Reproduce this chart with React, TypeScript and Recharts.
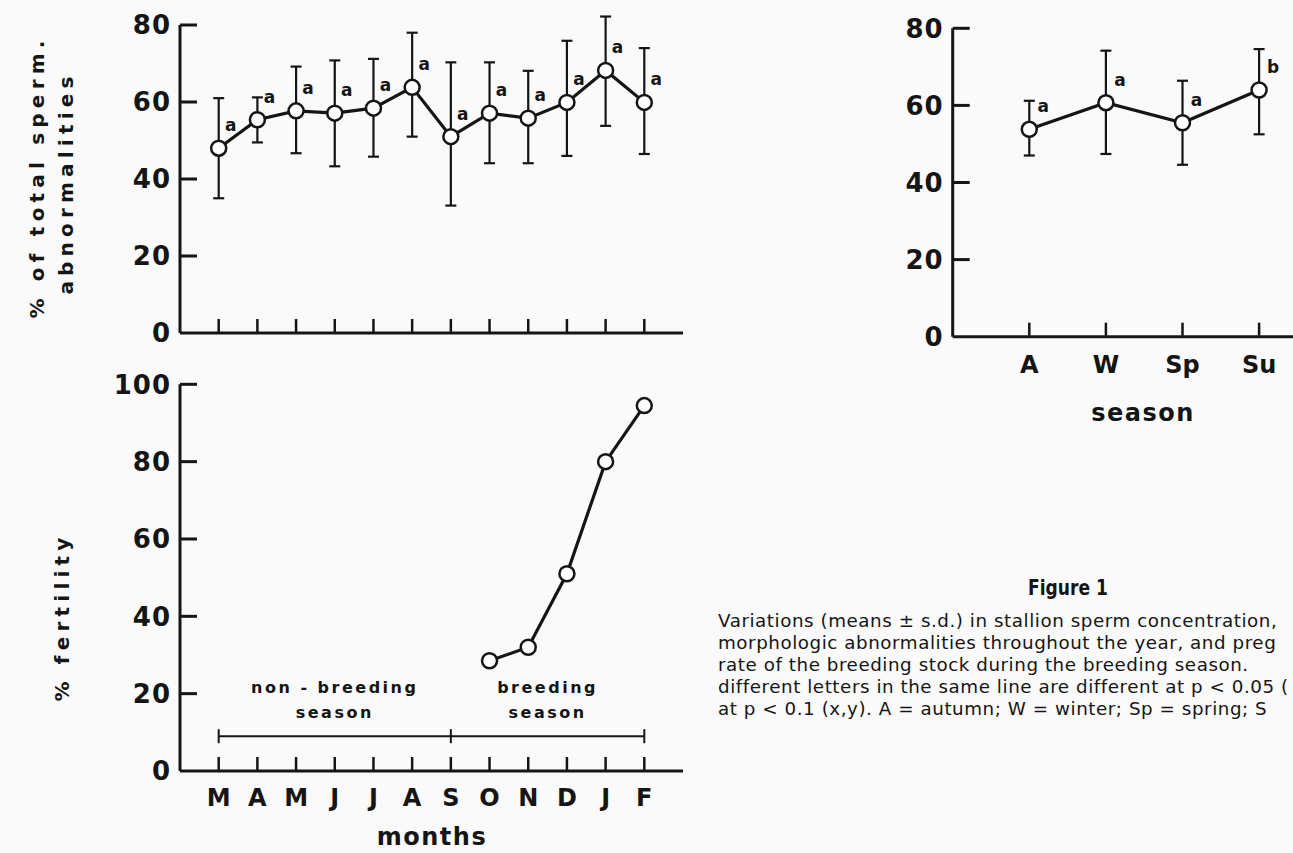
import React from "react";
import {
  LineChart,
  Line,
  XAxis,
  YAxis,
  ErrorBar,
  LabelList,
  ReferenceLine,
  ReferenceDot,
} from "recharts";

const INK = "#151515";
const PAPER = "#fafafa";
const FONT = "'DejaVu Sans', Verdana, sans-serif";

// monthly values, March .. February
const MONTHS = ["M", "A", "M", "J", "J", "A", "S", "O", "N", "D", "J", "F"];
const ABN_MEAN = [48, 55.4, 57.7, 57.1, 58.4, 63.8, 51, 57.1, 55.8, 59.9, 68.2, 59.9];
const ABN_UPPER = [61, 61.2, 69.2, 70.8, 71.2, 78, 70.3, 70.3, 68.1, 75.9, 82.2, 74];
const ABN_LOWER = [35, 49.5, 46.7, 43.3, 45.8, 51, 33.1, 44.1, 44.1, 46, 53.8, 46.5];
const ABN_LETTERS = ["a", "a", "a", "a", "a", "a", "a", "a", "a", "a", "a", "a"];
const ABN_TICKS = [0, 20, 40, 60, 80];

// fertility only measured during the breeding season (O .. F)
const FERT_MONTH_IDX = [7, 8, 9, 10, 11];
const FERT_VALUES = [28.5, 32, 51, 80, 94.5];
const FERT_TICKS = [0, 20, 40, 60, 80, 100];

// breeding / non-breeding bar
const PERIOD_BOUNDS = [0, 6, 11];
const PERIOD_LEVEL = 9;
const PERIOD_NAMES = [
  ["non - breeding", "season"],
  ["breeding", "season"],
];

// seasonal values
const SEASONS = ["A", "W", "Sp", "Su"];
const SEASON_MEAN = [53.8, 60.7, 55.5, 64];
const SEASON_UPPER = [61.2, 74.2, 66.4, 74.6];
const SEASON_LOWER = [47, 47.4, 44.6, 52.5];
const SEASON_LETTERS = ["a", "a", "a", "b"];

const CAPTION = [
  "Variations (means \u00b1 s.d.) in stallion sperm concentration,",
  "morphologic abnormalities throughout the year, and preg",
  "rate of the breeding stock during the breeding season.",
  "different letters in the same line are different at p < 0.05 (",
  "at p < 0.1 (x,y). A = autumn; W = winter; Sp = spring; S",
];

const monthIdx = MONTHS.map((_, i) => i);
const abnData = MONTHS.map((m, i) => ({
  x: i,
  mean: ABN_MEAN[i],
  err: [ABN_MEAN[i] - ABN_LOWER[i], ABN_UPPER[i] - ABN_MEAN[i]],
  letter: ABN_LETTERS[i],
}));
const fertData = FERT_MONTH_IDX.map((x, i) => ({ x, fert: FERT_VALUES[i] }));
const periodData = PERIOD_BOUNDS.map((x) => ({ x, level: PERIOD_LEVEL }));
const seasonData = SEASONS.map((s, i) => ({
  x: i,
  mean: SEASON_MEAN[i],
  err: [SEASON_MEAN[i] - SEASON_LOWER[i], SEASON_UPPER[i] - SEASON_MEAN[i]],
  letter: SEASON_LETTERS[i],
}));

const tickText = { fontFamily: FONT, fontWeight: 700, fill: INK } as const;

// y ticks point into the plot, label to the left
const renderYTick = (p: any) => {
  const v = p.payload.value;
  return (
    <g>
      {v !== 0 && <line x1={p.x} x2={p.x + 17} y1={p.y} y2={p.y} stroke={INK} strokeWidth={3} />}
      <text x={p.x - 9} y={p.y} dy="0.36em" textAnchor="end" fontSize={26} letterSpacing={1} {...tickText}>
        {v}
      </text>
    </g>
  );
};

// x ticks point up, optional label below
const makeXTick = (labels: string[] | null, gap: number) => (p: any) => (
  <g>
    <line x1={p.x} x2={p.x} y1={p.y - 1} y2={p.y - 14} stroke={INK} strokeWidth={2.5} />
    {labels && (
      <text x={p.x} y={p.y + gap} dy="0.36em" textAnchor="middle" fontSize={24} {...tickText}>
        {labels[p.payload.value]}
      </text>
    )}
  </g>
);

const makeLetter = (dx: number, dy: number) => (p: any) => {
  const x = p.x ?? p.viewBox?.x;
  const y = p.y ?? p.viewBox?.y;
  return (
    <text x={x + dx} y={y + dy} textAnchor="middle" fontSize={17} {...tickText}>
      {p.value}
    </text>
  );
};

const makePeriodLabel = (lines: string[]) => (p: any) => {
  const vb = p.viewBox || {};
  const cx = (vb.x ?? 0) + (vb.width ?? 0) / 2;
  const cy = (vb.y ?? 0) + (vb.height ?? 0) / 2;
  return (
    <text textAnchor="middle" fontSize={16} fontWeight={700} letterSpacing={2.5} fontFamily={FONT} fill={INK}>
      <tspan x={cx} y={cy - 43}>{lines[0]}</tspan>
      <tspan x={cx} y={cy - 18}>{lines[1]}</tspan>
    </text>
  );
};

const axisLine = { stroke: INK, strokeWidth: 3 };
const dotStyle = { r: 7.5, fill: "#fff", stroke: INK, strokeWidth: 2.5 };

export default function App() {
  return (
    <div
      style={{
        position: "absolute",
        left: 0,
        top: 0,
        width: 1293,
        height: 853,
        overflow: "hidden",
        background: PAPER,
      }}
    >
      {/* monthly abnormalities */}
      <div style={{ position: "absolute", left: 0, top: 0 }}>
        <LineChart width={700} height={362} margin={{ top: 9.6, right: 17, bottom: 0, left: 0 }} data={abnData}>
          <XAxis
            type="number"
            dataKey="x"
            domain={[-1, 12]}
            ticks={monthIdx}
            interval={0}
            height={29}
            tickSize={0}
            tickMargin={0}
            tickLine={false}
            axisLine={axisLine}
            tick={makeXTick(null, 0)}
          />
          <YAxis
            type="number"
            domain={[0, 84]}
            ticks={ABN_TICKS}
            interval={0}
            width={180}
            tickSize={0}
            tickMargin={0}
            tickLine={false}
            axisLine={false}
            tick={renderYTick}
          />
          <ReferenceLine segment={[{ x: -1, y: 0 }, { x: -1, y: 80 }]} stroke={INK} strokeWidth={3} />
          <Line dataKey="mean" stroke={INK} strokeWidth={3.2} dot={dotStyle} activeDot={false} isAnimationActive={false}>
            <ErrorBar dataKey="err" direction="y" width={5.5} stroke={INK} strokeWidth={2.2} />
            <LabelList dataKey="letter" content={makeLetter(12, -17)} />
          </Line>
        </LineChart>
      </div>

      {/* fertility */}
      <div style={{ position: "absolute", left: 0, top: 350 }}>
        <LineChart width={700} height={503} margin={{ top: 34.3, right: 17, bottom: 0, left: 0 }}>
          <XAxis
            type="number"
            dataKey="x"
            domain={[-1, 12]}
            ticks={monthIdx}
            interval={0}
            height={82}
            tickSize={0}
            tickMargin={0}
            tickLine={false}
            axisLine={axisLine}
            tick={makeXTick(MONTHS, 26)}
          />
          <YAxis
            type="number"
            domain={[0, 100]}
            ticks={FERT_TICKS}
            interval={0}
            width={180}
            tickSize={0}
            tickMargin={0}
            tickLine={false}
            axisLine={axisLine}
            tick={renderYTick}
          />
          <Line
            data={periodData}
            dataKey="level"
            stroke={INK}
            strokeWidth={2}
            activeDot={false}
            isAnimationActive={false}
            dot={(p: any) => (
              <line key={`cap-${p.index}`} x1={p.cx} x2={p.cx} y1={p.cy - 7} y2={p.cy + 7} stroke={INK} strokeWidth={2} />
            )}
          />
          {PERIOD_NAMES.map((lines, i) => (
            <ReferenceDot
              key={lines[0]}
              x={(PERIOD_BOUNDS[i] + PERIOD_BOUNDS[i + 1]) / 2}
              y={PERIOD_LEVEL}
              r={0}
              fill="none"
              stroke="none"
              label={makePeriodLabel(lines)}
            />
          ))}
          <Line data={fertData} dataKey="fert" stroke={INK} strokeWidth={3.2} dot={dotStyle} activeDot={false} isAnimationActive={false} />
        </LineChart>
      </div>

      {/* seasonal abnormalities */}
      <div style={{ position: "absolute", left: 780, top: 0 }}>
        <LineChart width={594} height={440} margin={{ top: 28.3, right: 0, bottom: 0, left: 0 }} data={seasonData}>
          <XAxis
            type="number"
            dataKey="x"
            domain={[-1, 4.5]}
            ticks={SEASONS.map((_, i) => i)}
            interval={0}
            height={103.3}
            tickSize={0}
            tickMargin={0}
            tickLine={false}
            axisLine={axisLine}
            tick={makeXTick(SEASONS, 28)}
          />
          <YAxis
            type="number"
            domain={[0, 80]}
            ticks={ABN_TICKS}
            interval={0}
            width={172.7}
            tickSize={0}
            tickMargin={0}
            tickLine={false}
            axisLine={axisLine}
            tick={renderYTick}
          />
          <Line dataKey="mean" stroke={INK} strokeWidth={3.2} dot={dotStyle} activeDot={false} isAnimationActive={false}>
            <ErrorBar dataKey="err" direction="y" width={5.5} stroke={INK} strokeWidth={2.2} />
            <LabelList dataKey="letter" content={makeLetter(14, -17)} />
          </Line>
        </LineChart>
      </div>

      {/* axis titles and caption */}
      <svg width={1293} height={853} style={{ position: "absolute", left: 0, top: 0, pointerEvents: "none" }}>
        <g fontFamily={FONT} fontWeight={700} fill={INK} fontSize={20} letterSpacing={5.2} textAnchor="middle">
          <text transform="translate(37,177) rotate(-90)" dy="0.35em">% of total sperm.</text>
          <text transform="translate(66,183) rotate(-90)" dy="0.35em">abnormalities</text>
          <text transform="translate(62,617) rotate(-90)" dy="0.35em">% fertility</text>
        </g>
        <g fontFamily={FONT} fontWeight={700} fill={INK} fontSize={24} letterSpacing={1.5} textAnchor="middle">
          <text x={432} y={845}>months</text>
          <text x={1143} y={421}>season</text>
        </g>
        <text
          x={1068}
          y={595}
          textAnchor="middle"
          textLength={80}
          lengthAdjust="spacingAndGlyphs"
          fontFamily={FONT}
          fontWeight={700}
          fontSize={21}
          fill={INK}
        >
          Figure 1
        </text>
        <g fontFamily={FONT} fontSize={18.3} letterSpacing={0.55} fill={INK}>
          {CAPTION.map((line, i) => (
            <text key={i} x={718} y={627 + i * 22}>
              {line}
            </text>
          ))}
        </g>
      </svg>
    </div>
  );
}
